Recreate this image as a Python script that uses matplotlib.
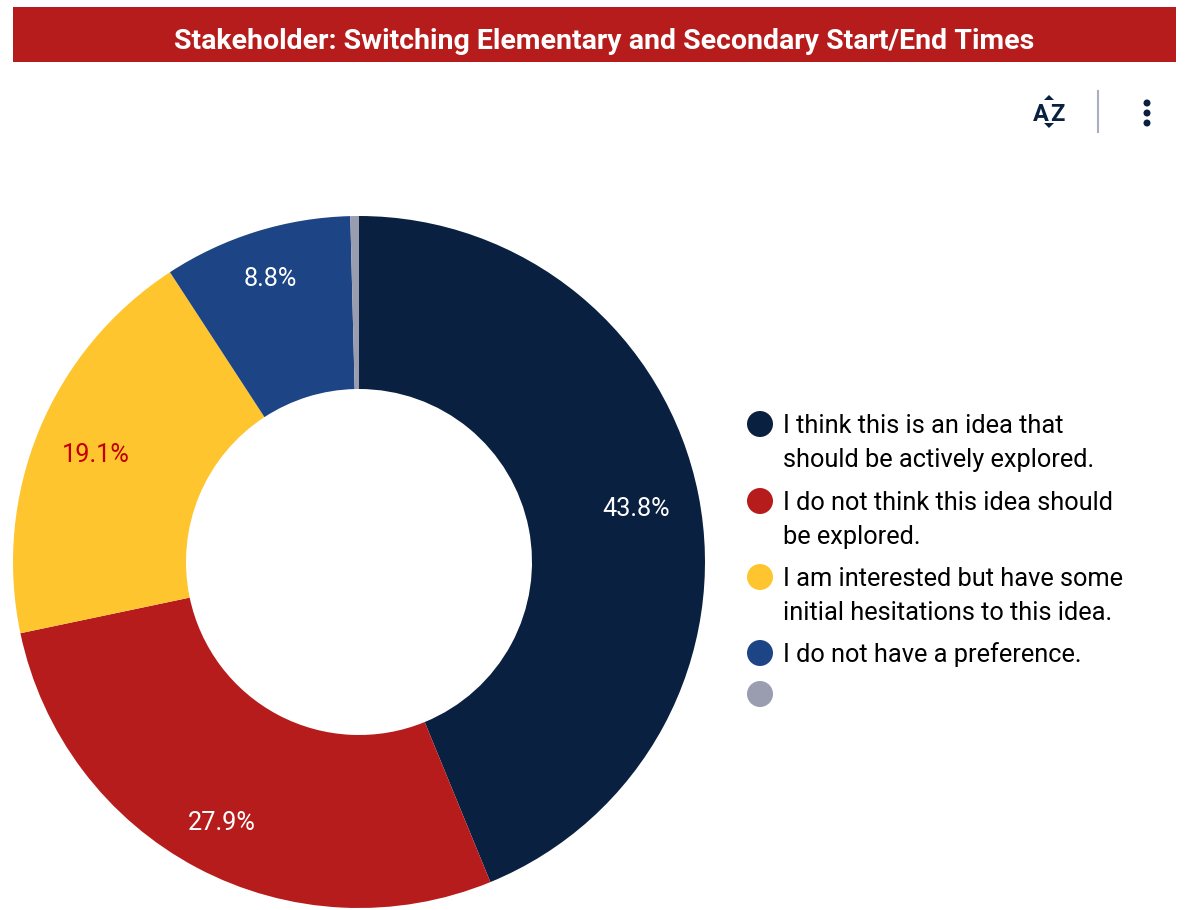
#!/usr/bin/env python3
import matplotlib.pyplot as plt
from matplotlib.patches import Rectangle, Circle, Polygon

plt.rcParams["font.family"] = ["Roboto", "DejaVu Sans"]

W, H = 1189, 910

title = "Stakeholder: Switching Elementary and Secondary Start/End Times"
values = [43.8, 27.9, 19.1, 8.8, 0.4]
pct_labels = ["43.8%", "27.9%", "19.1%", "8.8%", ""]
colors = ["#092040", "#b71c1c", "#ffc52f", "#1d4586", "#9a9cb0"]
label_colors = ["white", "white", "#c00000", "white", "white"]
legend_labels = [
    "I think this is an idea that\nshould be actively explored.",
    "I do not think this idea should\nbe explored.",
    "I am interested but have some\ninitial hesitations to this idea.",
    "I do not have a preference.",
    "",
]

fig = plt.figure(figsize=(W / 100, H / 100), dpi=100)

# donut
pie_ax = fig.add_axes([13 / W, 1 - 908 / H, 692 / W, 692 / H], zorder=0)
wedges, _ = pie_ax.pie(values, colors=colors, startangle=90, counterclock=False,
                       radius=1.0, wedgeprops={"width": 0.5, "linewidth": 0})
pie_ax.set_xlim(-1, 1)
pie_ax.set_ylim(-1, 1)

# full-figure axes in pixel coordinates, on top of the donut
ax = fig.add_axes([0, 0, 1, 1], zorder=1)
ax.set_xlim(0, W)
ax.set_ylim(H, 0)
ax.axis("off")

# header
ax.add_patch(Rectangle((13, 7), 1163, 55, color="#b71c1c", lw=0))
ax.text(604, 38.5, title, color="white", fontsize=20.5, fontweight="bold",
        ha="center", va="center_baseline")

# percentage labels
label_pos = [(636, 506), (222, 820), (96, 453), (270, 277)]
for (x, y), txt, c in zip(label_pos, pct_labels, label_colors):
    ax.text(x, y, txt, color=c, fontsize=18.2, ha="center", va="center_baseline")

# legend
legend_y = [424, 501, 577, 653, 694]
text_y = [443, 520, 596, 655, 694]
for ly, ty, c, txt in zip(legend_y, text_y, colors, legend_labels):
    ax.add_patch(Circle((760, ly), 13, color=c, lw=0))
    ax.text(783, ty, txt, color="black", fontsize=18.3, ha="left",
            va="center", linespacing=1.5)

# toolbar icons
ax.text(1041, 112, "A", color="#092040", fontsize=17, fontweight="bold",
        ha="center", va="center_baseline")
ax.text(1057, 112, "Z", color="#092040", fontsize=17, fontweight="bold",
        ha="center", va="center_baseline")
ax.add_patch(Polygon([(1044, 100), (1049, 95), (1054, 100)], color="#092040", lw=0))
ax.add_patch(Polygon([(1044, 123), (1049, 128), (1054, 123)], color="#092040", lw=0))
ax.plot([1098, 1098], [91, 132], color="#a8b0c0", lw=1.5)
for y in [103, 113, 123]:
    ax.add_patch(Circle((1147, y), 3.5, color="#092040", lw=0))

fig.savefig("out.png", dpi=100)
